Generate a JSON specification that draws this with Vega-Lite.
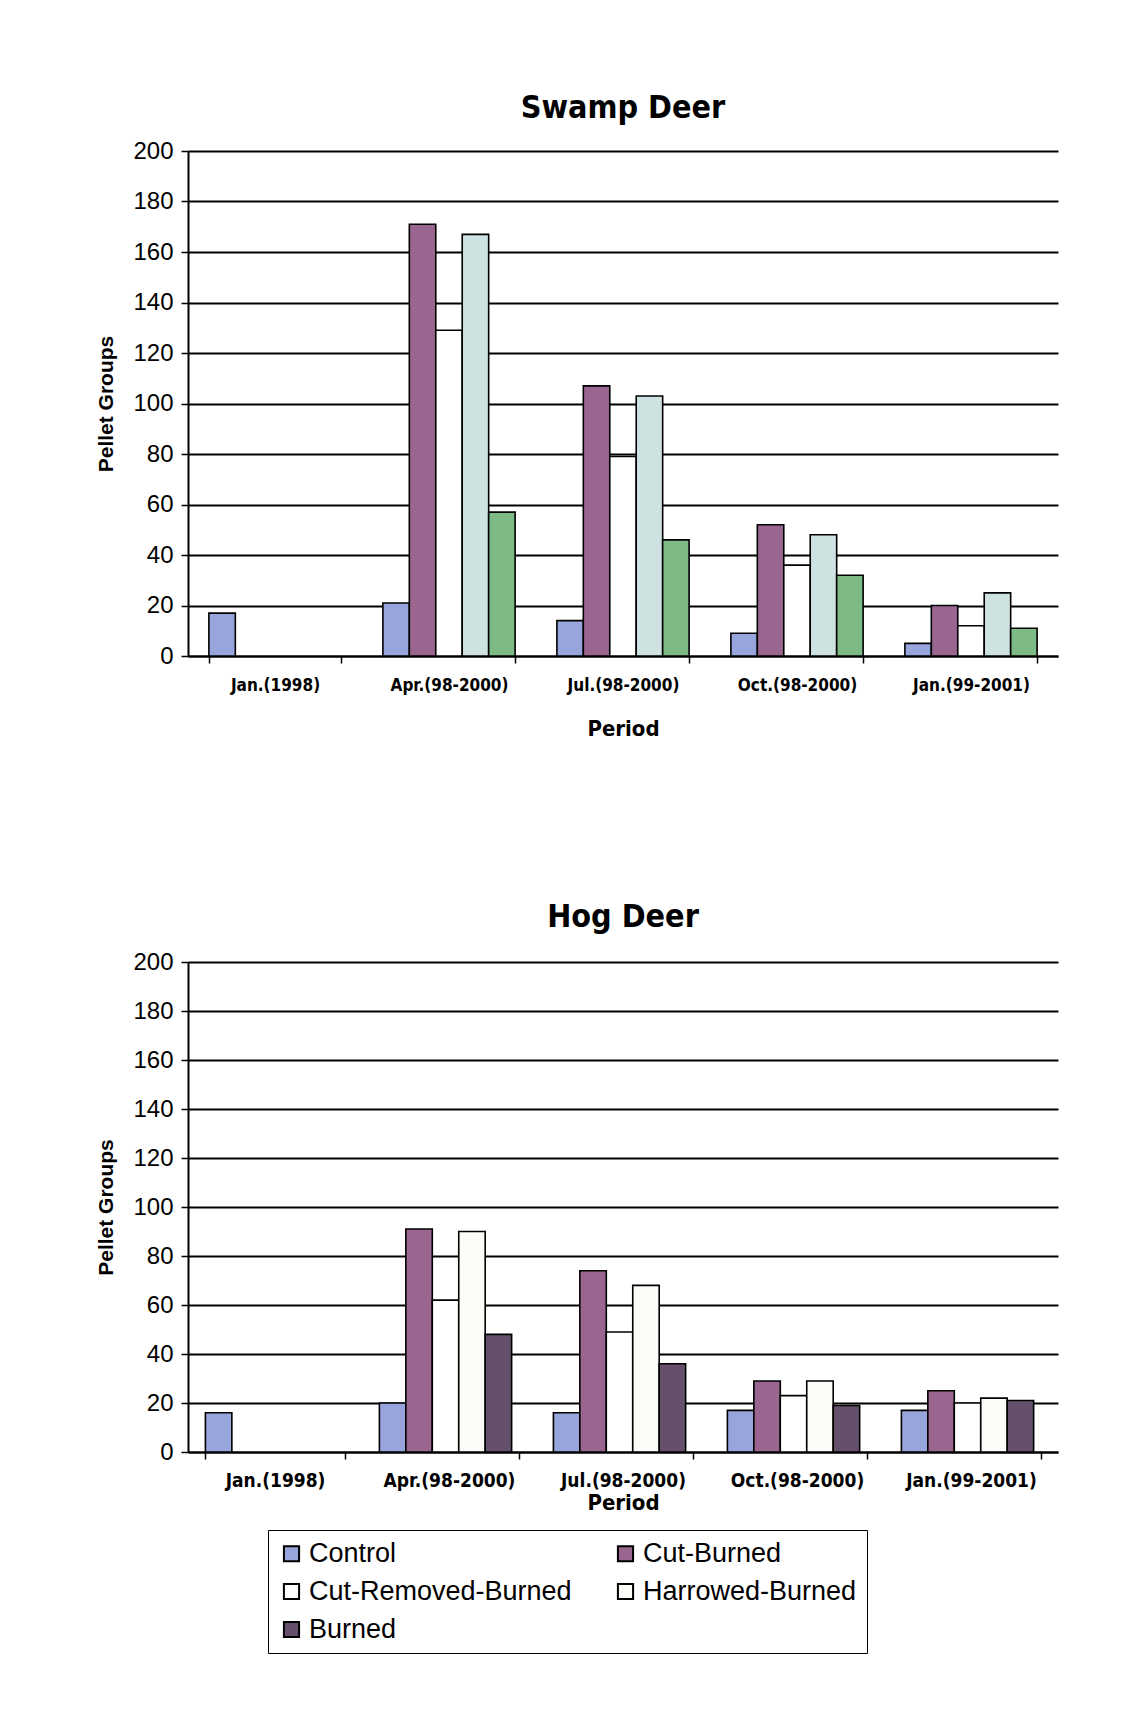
{
  "$schema": "https://vega.github.io/schema/vega-lite/v6.json",
  "background": "white",
  "padding": {"left": 95, "top": 92, "right": 10, "bottom": 10},
  "datasets": {
    "swamp": [
      {"period": "Jan.(1998)", "series": "Control", "value": 17},
      {"period": "Apr.(98-2000)", "series": "Control", "value": 21},
      {"period": "Apr.(98-2000)", "series": "Cut-Burned", "value": 171},
      {"period": "Apr.(98-2000)", "series": "Cut-Removed-Burned", "value": 129},
      {"period": "Apr.(98-2000)", "series": "Harrowed-Burned", "value": 167},
      {"period": "Apr.(98-2000)", "series": "Burned", "value": 57},
      {"period": "Jul.(98-2000)", "series": "Control", "value": 14},
      {"period": "Jul.(98-2000)", "series": "Cut-Burned", "value": 107},
      {"period": "Jul.(98-2000)", "series": "Cut-Removed-Burned", "value": 79},
      {"period": "Jul.(98-2000)", "series": "Harrowed-Burned", "value": 103},
      {"period": "Jul.(98-2000)", "series": "Burned", "value": 46},
      {"period": "Oct.(98-2000)", "series": "Control", "value": 9},
      {"period": "Oct.(98-2000)", "series": "Cut-Burned", "value": 52},
      {"period": "Oct.(98-2000)", "series": "Cut-Removed-Burned", "value": 36},
      {"period": "Oct.(98-2000)", "series": "Harrowed-Burned", "value": 48},
      {"period": "Oct.(98-2000)", "series": "Burned", "value": 32},
      {"period": "Jan.(99-2001)", "series": "Control", "value": 5},
      {"period": "Jan.(99-2001)", "series": "Cut-Burned", "value": 20},
      {"period": "Jan.(99-2001)", "series": "Cut-Removed-Burned", "value": 12},
      {"period": "Jan.(99-2001)", "series": "Harrowed-Burned", "value": 25},
      {"period": "Jan.(99-2001)", "series": "Burned", "value": 11}
    ],
    "hog": [
      {"period": "Jan.(1998)", "series": "Control", "value": 16},
      {"period": "Apr.(98-2000)", "series": "Control", "value": 20},
      {"period": "Apr.(98-2000)", "series": "Cut-Burned", "value": 91},
      {"period": "Apr.(98-2000)", "series": "Cut-Removed-Burned", "value": 62},
      {"period": "Apr.(98-2000)", "series": "Harrowed-Burned", "value": 90},
      {"period": "Apr.(98-2000)", "series": "Burned", "value": 48},
      {"period": "Jul.(98-2000)", "series": "Control", "value": 16},
      {"period": "Jul.(98-2000)", "series": "Cut-Burned", "value": 74},
      {"period": "Jul.(98-2000)", "series": "Cut-Removed-Burned", "value": 49},
      {"period": "Jul.(98-2000)", "series": "Harrowed-Burned", "value": 68},
      {"period": "Jul.(98-2000)", "series": "Burned", "value": 36},
      {"period": "Oct.(98-2000)", "series": "Control", "value": 17},
      {"period": "Oct.(98-2000)", "series": "Cut-Burned", "value": 29},
      {"period": "Oct.(98-2000)", "series": "Cut-Removed-Burned", "value": 23},
      {"period": "Oct.(98-2000)", "series": "Harrowed-Burned", "value": 29},
      {"period": "Oct.(98-2000)", "series": "Burned", "value": 19},
      {"period": "Jan.(99-2001)", "series": "Control", "value": 17},
      {"period": "Jan.(99-2001)", "series": "Cut-Burned", "value": 25},
      {"period": "Jan.(99-2001)", "series": "Cut-Removed-Burned", "value": 20},
      {"period": "Jan.(99-2001)", "series": "Harrowed-Burned", "value": 22},
      {"period": "Jan.(99-2001)", "series": "Burned", "value": 21}
    ]
  },
  "config": {
    "view": {"stroke": null},
    "font": "Liberation Sans",
    "axis": {
      "domainColor": "black", "tickColor": "black", "gridColor": "black",
      "labelColor": "black", "titleColor": "black",
      "domainWidth": 2, "tickWidth": 1.5, "gridWidth": 1.8
    },
    "title": {"fontSize": 32, "fontWeight": "bold", "font": "DejaVu Sans Condensed, Liberation Sans", "color": "black"}
  },
  "spacing": 162,
  "resolve": {"scale": {"color": "independent"}},
  "vconcat": [
    {
      "title": {"text": "Swamp Deer", "offset": 14},
      "width": 870,
      "height": 505,
      "data": {"name": "swamp"},
      "mark": {"type": "bar", "stroke": "black", "strokeWidth": 1.6},
      "encoding": {
        "x": {
          "field": "period", "type": "nominal",
          "sort": ["Jan.(1998)", "Apr.(98-2000)", "Jul.(98-2000)", "Oct.(98-2000)", "Jan.(99-2001)"],
          "scale": {"paddingInner": 0.24, "paddingOuter": 0.12},
          "axis": {
            "title": "Period", "labelAngle": 0, "tickBand": "extent", "grid": false,
            "labelFontSize": 17, "labelFont": "DejaVu Sans Condensed, Liberation Sans", "labelFontWeight": "bold",
            "labelPadding": 14, "tickSize": 7,
            "titleFontSize": 22, "titleFontWeight": "bold", "titleFont": "DejaVu Sans Condensed, Liberation Sans", "titlePadding": 25
          }
        },
        "xOffset": {
          "field": "series", "type": "nominal",
          "scale": {"domain": ["Control", "Cut-Burned", "Cut-Removed-Burned", "Harrowed-Burned", "Burned"]}
        },
        "y": {
          "field": "value", "type": "quantitative",
          "scale": {"domain": [0, 200]},
          "axis": {
            "values": [0, 20, 40, 60, 80, 100, 120, 140, 160, 180, 200],
            "title": "Pellet Groups", "grid": true, "tickSize": 7, "labelPadding": 8,
            "labelFontSize": 24, "titleFontSize": 21, "titleFontWeight": "bold", "titlePadding": 16
          }
        },
        "color": {
          "field": "series", "type": "nominal",
          "scale": {
            "domain": ["Control", "Cut-Burned", "Cut-Removed-Burned", "Harrowed-Burned", "Burned"],
            "range": ["#98a5dc", "#9a6690", "#ffffff", "#cfe2e2", "#7dba86"]
          },
          "legend": null
        }
      }
    },
    {
      "title": {"text": "Hog Deer", "offset": 16},
      "width": 870,
      "height": 490,
      "data": {"name": "hog"},
      "mark": {"type": "bar", "stroke": "black", "strokeWidth": 1.6},
      "encoding": {
        "x": {
          "field": "period", "type": "nominal",
          "sort": ["Jan.(1998)", "Apr.(98-2000)", "Jul.(98-2000)", "Oct.(98-2000)", "Jan.(99-2001)"],
          "scale": {"paddingInner": 0.2, "paddingOuter": 0.1},
          "axis": {
            "title": "Period", "labelAngle": 0, "tickBand": "extent", "grid": false,
            "labelFontSize": 19, "labelFont": "DejaVu Sans Condensed, Liberation Sans", "labelFontWeight": "bold",
            "labelPadding": 12, "tickSize": 7,
            "titleFontSize": 22, "titleFontWeight": "bold", "titleFont": "DejaVu Sans Condensed, Liberation Sans", "titlePadding": 2
          }
        },
        "xOffset": {
          "field": "series", "type": "nominal",
          "scale": {"domain": ["Control", "Cut-Burned", "Cut-Removed-Burned", "Harrowed-Burned", "Burned"]}
        },
        "y": {
          "field": "value", "type": "quantitative",
          "scale": {"domain": [0, 200]},
          "axis": {
            "values": [0, 20, 40, 60, 80, 100, 120, 140, 160, 180, 200],
            "title": "Pellet Groups", "grid": true, "tickSize": 7, "labelPadding": 8,
            "labelFontSize": 24, "titleFontSize": 21, "titleFontWeight": "bold", "titlePadding": 16
          }
        },
        "color": {
          "field": "series", "type": "nominal",
          "scale": {
            "domain": ["Control", "Cut-Removed-Burned", "Burned", "Cut-Burned", "Harrowed-Burned"],
            "range": ["#98a5dc", "#ffffff", "#64506a", "#9a6690", "#fbfbf8"]
          },
          "legend": {
            "orient": "none", "legendX": 80, "legendY": 568,
            "title": null, "columns": 2, "columnPadding": 40, "rowPadding": 10,
            "symbolType": "square", "symbolSize": 230, "symbolStrokeColor": "black", "symbolStrokeWidth": 2,
            "labelFontSize": 27, "labelColor": "black", "labelLimit": 400,
            "strokeColor": "black", "padding": 10,
            "direction": "vertical"
          }
        }
      }
    }
  ]
}
